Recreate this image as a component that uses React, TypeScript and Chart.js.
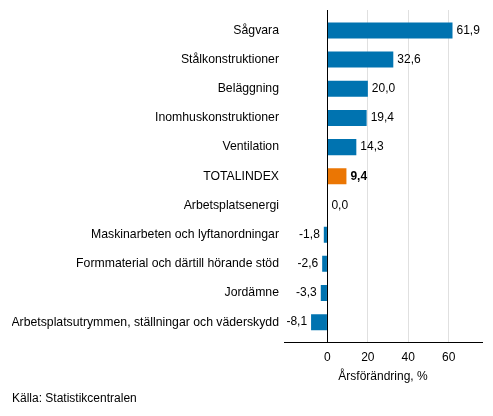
import React, { useEffect, useRef } from "react";
import { Chart, registerables } from "chart.js";

Chart.register(...registerables);

const categories: string[] = [
  "Sågvara",
  "Stålkonstruktioner",
  "Beläggning",
  "Inomhuskonstruktioner",
  "Ventilation",
  "TOTALINDEX",
  "Arbetsplatsenergi",
  "Maskinarbeten och lyftanordningar",
  "Formmaterial och därtill hörande stöd",
  "Jordämne",
  "Arbetsplatsutrymmen, ställningar och väderskydd",
];

const values: number[] = [61.9, 32.6, 20.0, 19.4, 14.3, 9.4, 0.0, -1.8, -2.6, -3.3, -8.1];

const highlight: string = "TOTALINDEX";
const xTicks: number[] = [0, 20, 40, 60];
const xTitle = "Årsförändring, %";
const source = "Källa: Statistikcentralen";

const BLUE = "#0073b0";
const ORANGE = "#eb7603";
const FONT = 'Arial, "Liberation Sans", sans-serif';

const fmt = (v: number) => v.toFixed(1).replace(".", ",");

const valueLabels = {
  id: "valueLabels",
  afterDatasetsDraw(chart: any) {
    const ctx = chart.ctx;
    const meta = chart.getDatasetMeta(0);
    ctx.save();
    ctx.textBaseline = "middle";
    meta.data.forEach((el: any, i: number) => {
      const v = values[i];
      const bold = categories[i] === highlight;
      ctx.font = `${bold ? "bold " : ""}12px ${FONT}`;
      ctx.fillStyle = "#000";
      if (v >= 0) {
        ctx.textAlign = "left";
        ctx.fillText(fmt(v), Math.max(el.x, el.base) + 4, el.y);
      } else {
        ctx.textAlign = "right";
        ctx.fillText(fmt(v), Math.min(el.x, el.base) - 4, el.y);
      }
    });
    ctx.restore();
  },
};

export default function App() {
  const ref = useRef<HTMLCanvasElement | null>(null);
  useEffect(() => {
    if (!ref.current) return;
    Chart.defaults.font.family = FONT;
    Chart.defaults.font.size = 12;
    Chart.defaults.color = "#000";
    const chart = new Chart(ref.current, {
      type: "bar",
      data: {
        labels: categories,
        datasets: [
          {
            data: values,
            backgroundColor: categories.map((c) => (c === highlight ? ORANGE : BLUE)),
            borderWidth: 0,
            categoryPercentage: 1,
            barPercentage: 0.55,
          },
        ],
      },
      options: {
        indexAxis: "y",
        animation: false,
        responsive: true,
        maintainAspectRatio: false,
        layout: { padding: { left: 4, right: 3, top: 2, bottom: 2 } },
        plugins: {
          legend: { display: false },
          tooltip: { enabled: false },
          title: {
            display: true,
            text: source,
            position: "bottom",
            align: "start",
            font: { size: 12, weight: "normal", lineHeight: 1.2 },
            color: "#000",
            padding: { top: 8, bottom: 0 },
          },
        },
        scales: {
          x: {
            type: "linear",
            min: -21.5,
            max: 76.5,
            afterBuildTicks: (scale: any) => {
              scale.ticks = xTicks.map((v) => ({ value: v }));
            },
            afterFit: (scale: any) => {
              scale.height = 41;
              scale.paddingLeft = 0;
              scale.paddingRight = 0;
            },
            grid: {
              drawTicks: false,
              color: (ctx: any) => (ctx.tick && ctx.tick.value === 0 ? "#000" : "#e0e0e0"),
              lineWidth: 1,
            },
            border: { display: true, color: "#000", width: 1 },
            ticks: {
              padding: 8,
              font: { size: 12 },
              color: "#000",
              callback: (v: any) => String(v),
            },
            title: {
              display: true,
              text: xTitle,
              font: { size: 12, lineHeight: 1.2 },
              color: "#000",
              padding: { top: 0, bottom: 0 },
            },
          },
          y: {
            type: "category",
            afterBuildTicks: (scale: any) => {
              scale._startValue = -0.7;
              scale._valueRange = categories.length + 0.4;
            },
            afterFit: (scale: any) => {
              scale.width = 272;
              scale.paddingTop = 0;
              scale.paddingBottom = 0;
            },
            grid: { display: false, drawTicks: false },
            border: { display: false },
            ticks: { padding: 5, font: { size: 12.25 }, color: "#000", autoSkip: false },
          },
        },
      },
      plugins: [valueLabels],
    });
    return () => chart.destroy();
  }, []);
  return (
    <div style={{ width: 477, height: 400, position: "relative" }}>
      <canvas ref={ref} />
    </div>
  );
}
